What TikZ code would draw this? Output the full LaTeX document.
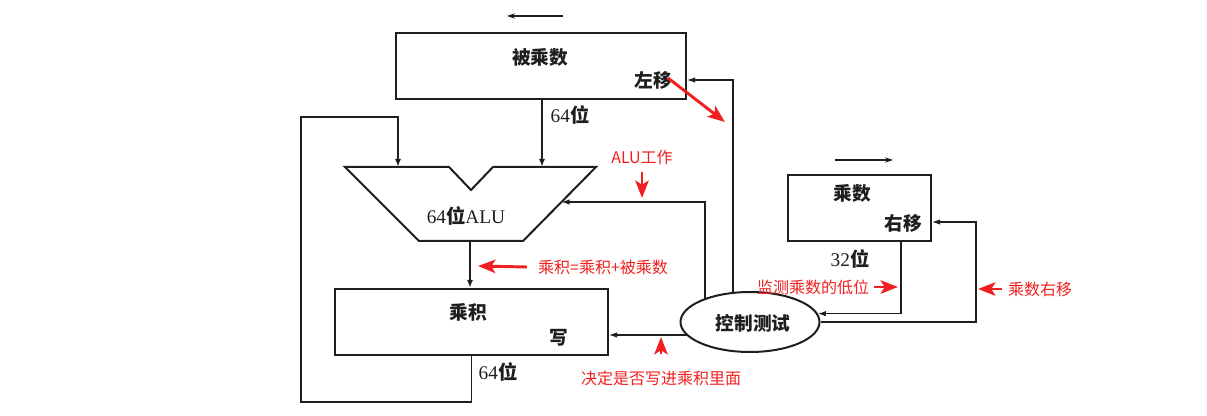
\documentclass[tikz,border=0pt]{standalone}
\usepackage{fontspec}
\setmainfont{Liberation Serif}
\newfontfamily\cjk{Noto Sans CJK SC}
\usetikzlibrary{arrows.meta,shapes.geometric,backgrounds,calc}
\definecolor{annot}{RGB}{240,32,32}
\definecolor{ink}{RGB}{30,30,30}
\begin{document}
\begin{tikzpicture}[x=0.75pt,y=-0.75pt,
  box/.style={draw=ink, line width=1.5pt, minimum height=49.5pt, inner sep=0pt},
  data/.style={draw=ink, line width=1.3pt, -{Latex[length=6pt,width=4.5pt]}},
  ctrl/.style={draw=ink, line width=0.8pt, -{Latex[length=6pt,width=4pt]}},
  blk/.style={text=ink, font=\cjk\bfseries\fontsize{14}{16}\selectfont, inner sep=0pt},
  num/.style={text=ink, font=\fontsize{14.5}{16}\selectfont, inner sep=0pt},
  redtxt/.style={text=annot, font=\cjk\fontsize{12}{14}\selectfont, inner sep=0pt},
  redarr/.style={draw=annot, line width=2.2pt, -{Stealth[length=13pt,width=10pt,inset=3pt]}},
  dirarr/.style={draw=ink, line width=0.8pt, -{Stealth[length=6pt,width=4pt]}}
]
\useasboundingbox (0,0) rectangle (1207,416);

% boxes
\node[box, minimum width=217.5pt] (mcand) at (541,66) {};
\node[blk] (mcandT) at (540,57) {被乘数};
\node[blk] (zuoyi) at (653,80) {左移};

\node[box, minimum width=204.75pt] (prod) at (471.5,322) {};
\node[blk] (prodT) at (468,312) {乘积};
\node[blk] (xie) at (559,338) {写};

\node[box, minimum width=107.25pt] (mplier) at (859.5,208) {};
\node[blk] (mplierT) at (852,193) {乘数};
\node[blk] (youyi) at (903,223) {右移};

\node[draw=ink, line width=1.5pt, ellipse, fill=white, minimum width=104.25pt,
      minimum height=45pt, inner sep=0pt] (ctl) at (750,322) {};
\node[blk] (ctlT) at (753,323) {控制测试};

% ALU
\draw[ink, line width=1.5pt, line join=miter] (345,167) -- (449,167) -- (471,190) -- (493,167)
  -- (596,167) -- (523,241) -- (419,241) -- cycle;
\coordinate (aluIn1) at (398,167);
\coordinate (aluIn2) at (542,167);
\coordinate (aluOut) at (470,241);
\coordinate (aluR) at (561.5,202);
\node[num] (aluT) at (466,216) {64{\cjk\bfseries 位}ALU};

% width labels
\node[num] (w1) at (570,115) {64{\cjk\bfseries 位}};
\node[num] (w2) at (498,372) {64{\cjk\bfseries 位}};
\node[num] (w3) at (850,259) {32{\cjk\bfseries 位}};

% helper coordinates
\coordinate (fbBL) at (301,402);
\coordinate (fbTR) at (398,117);
\coordinate (c1) at (705,202);
\coordinate (c2) at (733,80);
\coordinate (c3) at (608,335);
\coordinate (c4) at (901,314);
\coordinate (c5) at (976,222);

% data connectors
\draw[data] (mcand.south -| aluIn2) -- (aluIn2);
\draw[data] (aluOut) -- (prod.north -| aluOut);
\draw[data] (prod.south) |- (fbBL) |- (fbTR) -- (aluIn1);

% control connectors
\begin{scope}[on background layer]
\draw[ctrl] (ctl.center -| c1) |- (aluR);
\draw[ctrl] (ctl.center -| c2) |- (mcand.east |- c2);
\draw[ctrl] (ctl.center |- c3) -- (prod.east |- c3);
\draw[ctrl] (mplier.south -| c4) |- (ctl.7);
\draw[ctrl] (ctl.east) -| (c5) -- (mplier.east |- c5);
\end{scope}

% direction arrows
\coordinate (d1s) at (563,16);
\coordinate (d1e) at (507,16);
\coordinate (d2s) at (835,160);
\coordinate (d2e) at (893,160);
\draw[dirarr] (d1s) -- (d1e);
\draw[dirarr] (d2s) -- (d2e);

% red annotations
\node[redtxt] (l1) at (642,157) {ALU工作};
\node[redtxt] (l2) at (603,267) {乘积=乘积+被乘数};
\node[redtxt] (l3) at (661,378) {决定是否写进乘积里面};
\node[redtxt] (l4) at (813,287) {监测乘数的低位};
\node[redtxt] (l5) at (1040,289) {乘数右移};

\coordinate (r1s) at (668,78);
\coordinate (r1e) at (725,122);
\coordinate (r2e) at (478,266);
\coordinate (r3e) at (642,198);
\coordinate (r4e) at (661,337);
\coordinate (r5e) at (898,287);
\coordinate (r6e) at (978,289);

\draw[redarr] (r1s) -- (r1e);
\draw[redarr] ($(l2.west)+(-11,0)$) -- (r2e);
\draw[redarr] ($(l1.south)+(0,7)$) -- (r3e);
\draw[redarr] ($(l3.north)+(0,-16)$) -- (r4e);
\draw[redarr] ($(l4.east)+(5,0)$) -- (r5e);
\draw[redarr] ($(l5.west)+(-6,0)$) -- (r6e);
\end{tikzpicture}
\end{document}
